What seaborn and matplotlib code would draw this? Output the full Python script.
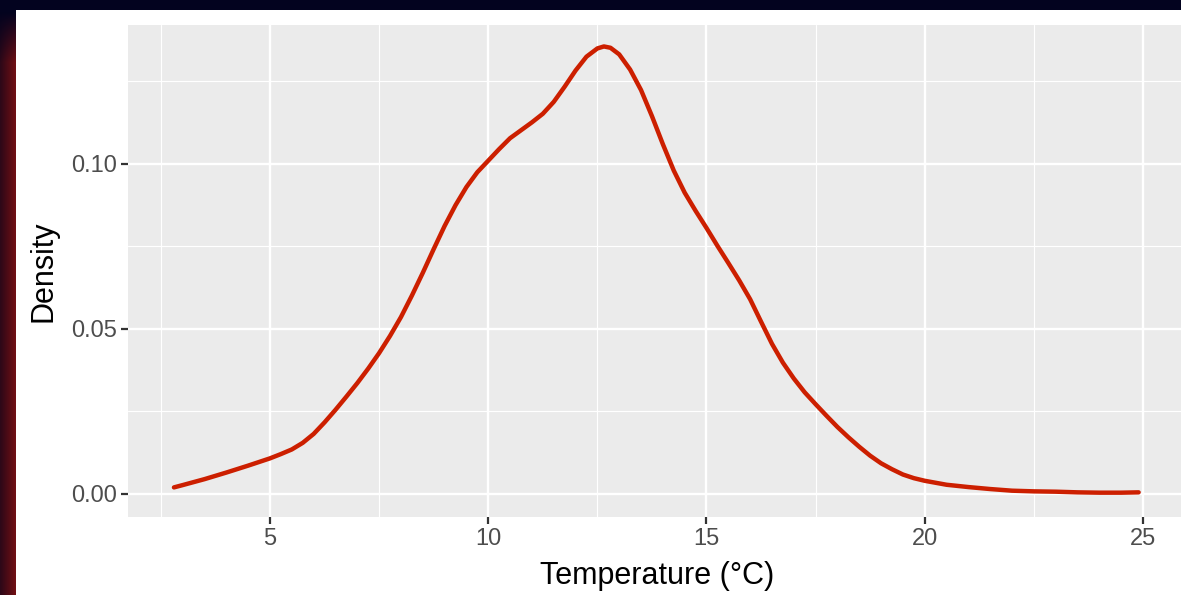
import numpy as np
import pandas as pd
import matplotlib
matplotlib.use("Agg")
import matplotlib.pyplot as plt
import seaborn as sns

# density curve (temperature in degC -> density)
temperature = [2.8, 3.0, 3.5, 4.0, 4.5, 5.0, 5.25, 5.5, 5.75, 6.0, 6.25, 6.5,
               6.75, 7.0, 7.25, 7.5, 7.75, 8.0, 8.25, 8.5, 8.75, 9.0, 9.25,
               9.5, 9.75, 10.0, 10.25, 10.5, 10.75, 11.0, 11.25, 11.5, 11.75,
               12.0, 12.25, 12.5, 12.65, 12.8, 13.0, 13.25, 13.5, 13.75, 14.0,
               14.25, 14.5, 14.75, 15.0, 15.25, 15.5, 15.75, 16.0, 16.25, 16.5,
               16.75, 17.0, 17.25, 17.5, 17.75, 18.0, 18.25, 18.5, 18.75, 19.0,
               19.25, 19.5, 19.75, 20.0, 20.5, 21.0, 21.5, 22.0, 22.5, 23.0,
               23.5, 24.0, 24.5, 24.9]
density = [0.0020, 0.0027, 0.0045, 0.0065, 0.0086, 0.0108, 0.0121, 0.0135,
           0.0155, 0.0182, 0.0217, 0.0255, 0.0295, 0.0336, 0.0380, 0.0427,
           0.0479, 0.0536, 0.0601, 0.0670, 0.0742, 0.0812, 0.0875, 0.0930,
           0.0975, 0.1010, 0.1045, 0.1078, 0.1102, 0.1126, 0.1152, 0.1188,
           0.1234, 0.1283, 0.1325, 0.1350, 0.1356, 0.1352, 0.1332, 0.1286,
           0.1224, 0.1145, 0.1060, 0.0980, 0.0913, 0.0858, 0.0806, 0.0752,
           0.0700, 0.0647, 0.0590, 0.0522, 0.0455, 0.0398, 0.0350, 0.0308,
           0.0272, 0.0237, 0.0203, 0.0172, 0.0143, 0.0116, 0.0093, 0.0075,
           0.0059, 0.0048, 0.0040, 0.0028, 0.0021, 0.0015, 0.0010, 0.0008,
           0.0007, 0.0005, 0.0004, 0.0004, 0.0005]

x_ticks = [5, 10, 15, 20, 25]
y_ticks = [0.00, 0.05, 0.10]
y_tick_labels = ["0.00", "0.05", "0.10"]

df = pd.DataFrame({"temperature": temperature, "density": density})

sns.set_theme(style="darkgrid", rc={
    "axes.facecolor": "#EBEBEB",
    "grid.color": "white",
    "axes.edgecolor": "#EBEBEB",
})
plt.rcParams["font.family"] = ["Liberation Sans", "DejaVu Sans"]

W, H = 1181, 595
fig = plt.figure(figsize=(W / 100, H / 100), dpi=100, facecolor="#03031f")

# screenshot frame: dark band on top, red gradient strip on the left
white = plt.Rectangle((16 / W, 0), 1, (H - 10) / H, transform=fig.transFigure,
                      facecolor="white", edgecolor="none", zorder=-5)
fig.patches.append(white)
strip = fig.add_axes([0, 0, 16 / W, 1])
rows = np.linspace(0, 1, H)[:, None]
cols = np.linspace(0, 1, 16)[None, :]
t = np.clip((rows * H - 12) / 50, 0, 1)
navy = np.array([3, 3, 31]) / 255
red_l = np.array([45, 8, 24]) / 255
red_r = np.array([112, 15, 20]) / 255
red = red_l[None, None, :] * (1 - cols[..., None]) + red_r[None, None, :] * cols[..., None]
img = navy[None, None, :] * (1 - t[..., None]) + red * t[..., None]
img[:10] = navy
strip.imshow(img, aspect="auto", extent=[0, 1, 1, 0])
strip.set_axis_off()

ax = fig.add_axes([128 / W, (H - 517) / H, (1187 - 128) / W, (517 - 25) / H])
sns.lineplot(data=df, x="temperature", y="density", ax=ax,
             color="#CC1F00", linewidth=3.2)
ax.lines[0].set_solid_joinstyle("round")
ax.lines[0].set_solid_capstyle("round")

ax.set_xlim(1.747, 26.008)
ax.set_ylim(-0.00697, 0.1421)
ax.set_xticks(x_ticks)
ax.set_yticks(y_ticks)
ax.set_yticklabels(y_tick_labels)
ax.set_xticks([2.5, 7.5, 12.5, 17.5, 22.5], minor=True)
ax.set_yticks([0.025, 0.075, 0.125], minor=True)
ax.grid(which="major", color="white", linewidth=1.7)
ax.grid(which="minor", color="white", linewidth=0.85)
ax.tick_params(which="major", length=5, width=1.6, color="#333333",
               labelsize=17, labelcolor="#4D4D4D", pad=3, bottom=True, left=True)
ax.tick_params(which="minor", length=0)
for s in ax.spines.values():
    s.set_visible(False)

ax.set_xlabel("Temperature (°C)", fontsize=22, color="black", labelpad=8)
ax.set_ylabel("Density", fontsize=22, color="black", labelpad=9)

fig.savefig("out.png", dpi=100, facecolor=fig.get_facecolor())
